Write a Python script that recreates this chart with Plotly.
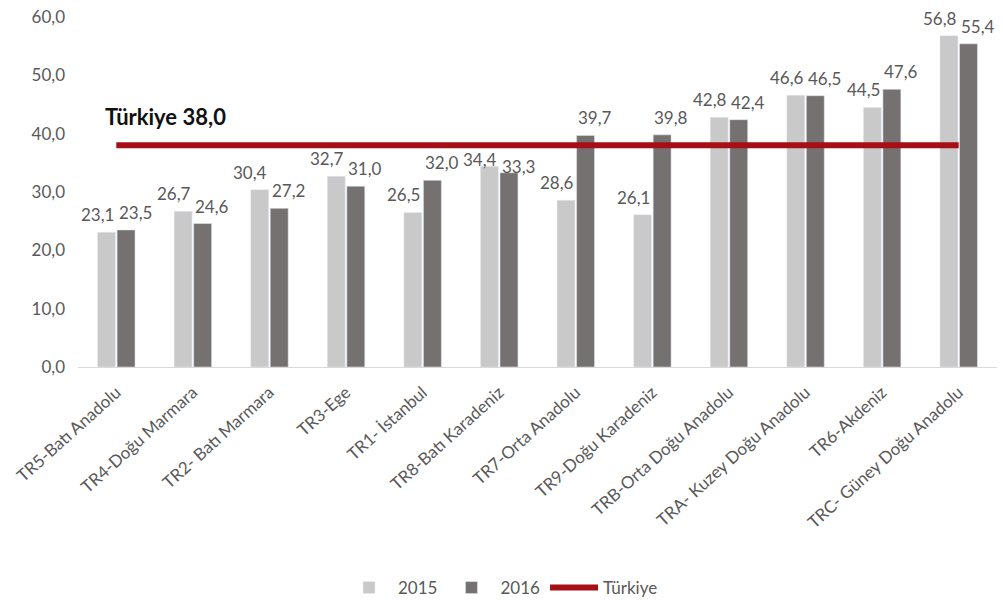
import plotly.graph_objects as go

categories = ["TR5-Batı Anadolu", "TR4-Doğu Marmara", "TR2- Batı Marmara", "TR3-Ege",
              "TR1- İstanbul", "TR8-Batı Karadeniz", "TR7-Orta Anadolu", "TR9-Doğu Karadeniz",
              "TRB-Orta Doğu Anadolu", "TRA- Kuzey Doğu Anadolu", "TR6-Akdeniz",
              "TRC- Güney Doğu Anadolu"]
v2015 = [23.1, 26.7, 30.4, 32.7, 26.5, 34.4, 28.6, 26.1, 42.8, 46.6, 44.5, 56.8]
v2016 = [23.5, 24.6, 27.2, 31.0, 32.0, 33.3, 39.7, 39.8, 42.4, 46.5, 47.6, 55.4]
turkiye = 38.0
turkiye_line = [turkiye] * len(categories)

font_family = "Lato, 'Open Sans', sans-serif"
txt_color = "#595959"

fig = go.Figure()
fig.add_trace(go.Bar(x=categories, y=v2015, name="2015", marker_color="#c9c9c9"))
fig.add_trace(go.Bar(x=categories, y=v2016, name="2016", marker_color="#767171"))
fig.add_trace(go.Scatter(x=categories, y=turkiye_line, name="Türkiye", mode="lines",
                         line=dict(color="#a50f15", width=6)))

def fmt(v):
    return f"{v:.1f}".replace(".", ",")

for series, shift in ((v2015, -19), (v2016, 19)):
    for cat, val in zip(categories, series):
        # keep labels clear of the Türkiye line when the bar top sits just below it
        ys = -6 if turkiye - 5 < val < turkiye else 5
        fig.add_annotation(x=cat, y=val, text=fmt(val), showarrow=False,
                           xanchor="center", yanchor="bottom", xshift=shift, yshift=ys,
                           font=dict(size=17, color=txt_color, family=font_family))

fig.add_annotation(text="<b>Türkiye 38,0</b>", xref="paper", yref="y",
                   x=0.027, y=42.9, xanchor="left", yanchor="middle", showarrow=False,
                   font=dict(size=22, color="#111111", family=font_family))

fig.update_layout(
    width=1003, height=600,
    margin=dict(l=78, r=6, t=17, b=233, autoexpand=False),
    paper_bgcolor="white", plot_bgcolor="white",
    separators=",.",
    barmode="group", bargap=0.49, bargroupgap=0.08,
    font=dict(family=font_family, color=txt_color, size=17),
    showlegend=True,
    legend=dict(orientation="h", x=0.5, xanchor="center", xref="container",
                y=0.02, yanchor="middle", yref="container", itemwidth=48,
                font=dict(size=17, color=txt_color), traceorder="normal"),
    yaxis=dict(range=[0, 60], dtick=10, tickformat=".1f", showgrid=False,
               zeroline=False, showline=False, ticks="", automargin=False,
               tickfont=dict(size=17, color=txt_color), ticklabelstandoff=12),
    xaxis=dict(showline=True, linecolor="#d9d9d9", linewidth=1, ticks="",
               automargin=False, tickangle=-42, ticklabelstandoff=8,
               tickfont=dict(size=17, color=txt_color)),
)

fig.write_html("out.html")
